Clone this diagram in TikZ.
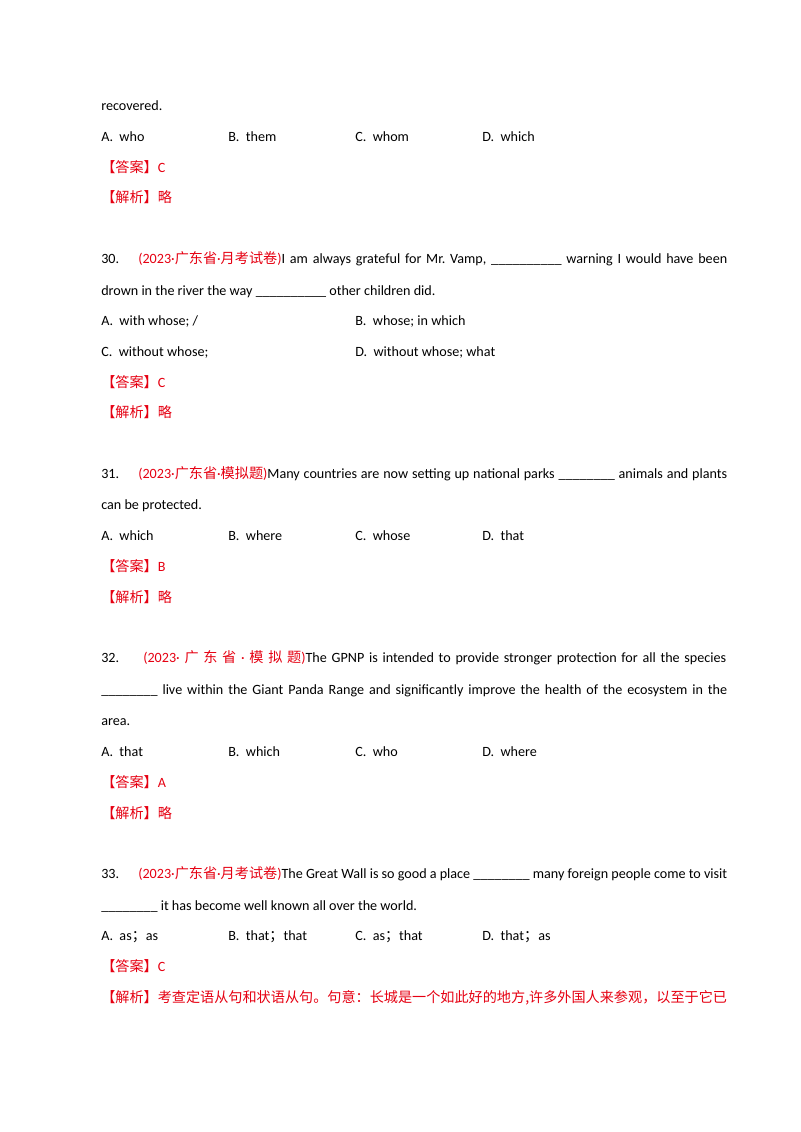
\documentclass[tikz,border=0pt]{standalone}
\usepackage{fontspec}
\setmainfont{Carlito}
\newfontfamily\cjk{Noto Sans CJK SC}
\definecolor{rd}{HTML}{E60012}
\newcommand\zh[1]{{\cjk #1}}
\newcommand\ans[1]{\textcolor{rd}{\zh{【答案】}#1}}
\newcommand\jx{\textcolor{rd}{\zh{【解析】略}}}
\frenchspacing
\begin{document}
\begin{tikzpicture}[x=0.75pt,y=-0.75pt,every node/.style={anchor=base west,inner sep=0pt,font=\fontsize{10.6pt}{12pt}\selectfont}]
\useasboundingbox[fill=white] (0,0) rectangle (800,1132);
\node (l0) at (101,110) {recovered.};
\node (a1) at (101,141) {A.\ \ who};
\node (b1) at (228,141) {B.\ \ them};
\node (c1) at (355,141) {C.\ \ whom};
\node (d1) at (482,141) {D.\ \ which};
\node (k1) at (101,172) {\ans{C}};
\node (j1) at (101,202) {\jx};
% 30
\node (n30) at (101,263) {30.};
\node (t30) at (138,263) {\makebox[441.75pt][s]{\textcolor{rd}{(2023·\zh{广东省}·\zh{月考试卷})}I am always grateful for Mr.\ Vamp, \_\_\_\_\_\_\_\_\_\_ warning I would have been}};
\node (t30b) at (101,295) {drown in the river the way \_\_\_\_\_\_\_\_\_\_ other children did.};
\node (a30) at (101,325) {A.\ \ with whose; /};
\node (b30) at (355,325) {B.\ \ whose; in which};
\node (c30) at (101,356) {C.\ \ without whose;};
\node (d30) at (355,356) {D.\ \ without whose; what};
\node (k30) at (101,387) {\ans{C}};
\node (j30) at (101,417) {\jx};
% 31
\node (n31) at (101,478) {31.};
\node (t31) at (138,478) {\makebox[441.75pt][s]{\textcolor{rd}{(2023·\zh{广东省}·\zh{模拟题})}Many countries are now setting up national parks \_\_\_\_\_\_\_\_ animals and plants}};
\node (t31b) at (101,509) {can be protected.};
\node (a31) at (101,540) {A.\ \ which};
\node (b31) at (228,540) {B.\ \ where};
\node (c31) at (355,540) {C.\ \ whose};
\node (d31) at (482,540) {D.\ \ that};
\node (k31) at (101,571) {\ans{B}};
\node (j31) at (101,602) {\jx};
% 32
\node (n32) at (101,662) {32.};
\node (t32) at (143,662) {\makebox[437.25pt][s]{\textcolor{rd}{(2023· \zh{广} \zh{东} \zh{省} · \zh{模} \zh{拟} \zh{题})}The GPNP is intended to provide stronger protection for all the species}};
\node (t32b) at (101,694) {\makebox[469.5pt][s]{\_\_\_\_\_\_\_\_ live within the Giant Panda Range and significantly improve the health of the ecosystem in the}};
\node (t32c) at (101,725) {area.};
\node (a32) at (101,756) {A.\ \ that};
\node (b32) at (228,756) {B.\ \ which};
\node (c32) at (355,756) {C.\ \ who};
\node (d32) at (482,756) {D.\ \ where};
\node (k32) at (101,787) {\ans{A}};
\node (j32) at (101,818) {\jx};
% 33
\node (n33) at (101,878) {33.};
\node (t33) at (138,878) {\makebox[441.75pt][s]{\textcolor{rd}{(2023·\zh{广东省}·\zh{月考试卷})}The Great Wall is so good a place \_\_\_\_\_\_\_\_ many foreign people come to visit}};
\node (t33b) at (101,910) {\_\_\_\_\_\_\_\_ it has become well known all over the world.};
\node (a33) at (101,940) {A.\ \ as\zh{；}as};
\node (b33) at (228,940) {B.\ \ that\zh{；}that};
\node (c33) at (355,940) {C.\ \ as\zh{；}that};
\node (d33) at (482,940) {D.\ \ that\zh{；}as};
\node (k33) at (101,971) {\ans{C}};
\node (j33) at (101,1002) {\textcolor{rd}{\cjk\fontsize{10.6pt}{12pt}\selectfont 【解析】考查定语从句和状语从句。句意：长城是一个如此好的地方,许多外国人来参观，以至于它已}};
\end{tikzpicture}
\end{document}
